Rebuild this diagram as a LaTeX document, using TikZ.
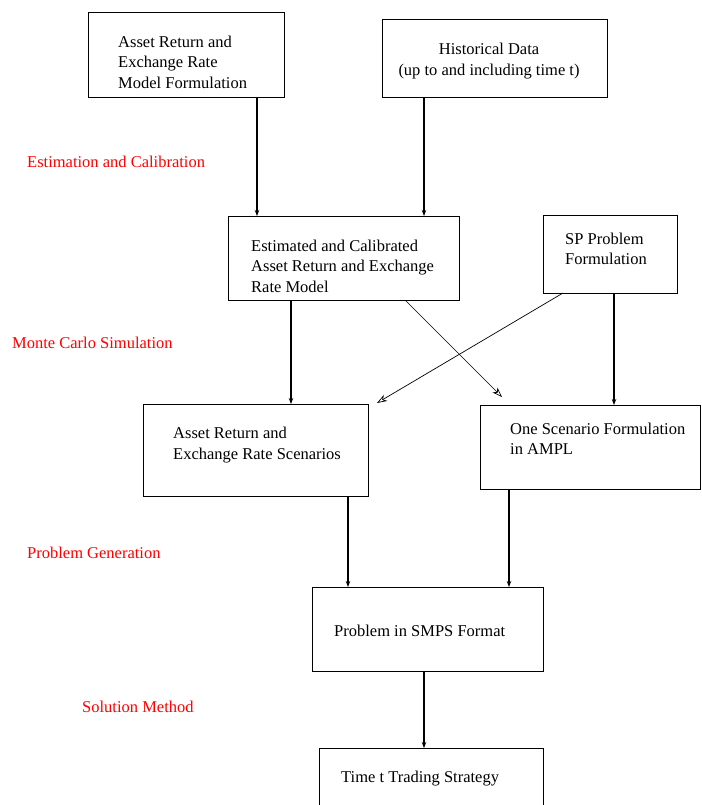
\documentclass[tikz,border=0pt]{standalone}
\usepackage{fontspec}
\setmainfont{Liberation Serif}
\usetikzlibrary{arrows.meta}
\begin{document}
\begin{tikzpicture}[x=1pt,y=-1pt,
  box/.style={draw, line width=1.2pt, rectangle, inner sep=0pt, anchor=north west},
  txt/.style={inner sep=0pt, align=left, font=\fontsize{16.5}{20.5}\selectfont},
  lbl/.style={inner sep=0pt, anchor=west, text=red, font=\fontsize{16.5}{20.5}\selectfont},
  varr/.style={line width=1.4pt, -{Stealth[length=6pt,width=4.5pt,inset=2pt]}},
  darr/.style={line width=0.7pt, -{Stealth[open,length=10pt,width=7pt,inset=3pt]}}]
\useasboundingbox (0,0) rectangle (701,805);
\fill[white] (0,0) rectangle (701,805);

% boxes
\node[box, minimum width=196pt, minimum height=85pt] (b1) at (88,12) {};
\node[box, minimum width=225pt, minimum height=78pt] (hist) at (382,19) {};
\node[box, minimum width=231pt, minimum height=84pt] (est) at (228,216) {};
\node[box, minimum width=134pt, minimum height=78pt] (sp) at (543,215) {};
\node[box, minimum width=225pt, minimum height=92pt] (scen) at (143,404) {};
\node[box, minimum width=220pt, minimum height=84pt] (ampl) at (480,405) {};
\node[box, minimum width=231pt, minimum height=84pt] (smps) at (312,587) {};
\node[box, minimum width=224pt, minimum height=80pt] (time) at (319,748) {};

% box texts
\node[txt, anchor=west] (t1) at (118,62) {Asset Return and\\Exchange Rate\\Model Formulation};
\node[txt, align=center] (t2) at (489,61) {Historical Data\\(up to and including time t)};
\node[txt, anchor=west] (t3) at (251,266) {Estimated and Calibrated\\Asset Return and Exchange\\Rate Model};
\node[txt, anchor=west] (t4) at (565,249) {SP Problem\\Formulation};
\node[txt, anchor=west] (t5) at (173,445) {Asset Return and\\Exchange Rate Scenarios};
\node[txt, anchor=west] (t6) at (510,439) {One Scenario Formulation\\in AMPL};
\node[txt, anchor=west] (t7) at (334,631) {Problem in SMPS Format};
\node[txt, anchor=west] (t8) at (341,779) {Time t Trading Strategy};

% stage labels
\node[lbl] (l1) at (27,162) {Estimation and Calibration};
\node[lbl] (l2) at (12,343) {Monte Carlo Simulation};
\node[lbl] (l3) at (27,553) {Problem Generation};
\node[lbl] (l4) at (82,707) {Solution Method};

% free ends of diagonal arrows
\coordinate (e1) at (405,300);
\coordinate (d1) at (502,397);
\coordinate (e2) at (563,293);
\coordinate (d2) at (377,403);

% connectors
\draw[varr] (b1.south -| 257,0) -- (est.north -| 257,0);
\draw[varr] (hist.south -| 424,0) -- (est.north -| 424,0);
\draw[varr] (est.south -| 291,0) -- (scen.north -| 291,0);
\draw[varr] (sp.south -| 614,0) -- (ampl.north -| 614,0);
\draw[varr] (scen.south -| 348,0) -- (smps.north -| 348,0);
\draw[varr] (ampl.south -| 509,0) -- (smps.north -| 509,0);
\draw[varr] (smps.south -| 424,0) -- (time.north -| 424,0);
\draw[darr] (e1) -- (d1);
\draw[darr] (e2) -- (d2);
\end{tikzpicture}
\end{document}
